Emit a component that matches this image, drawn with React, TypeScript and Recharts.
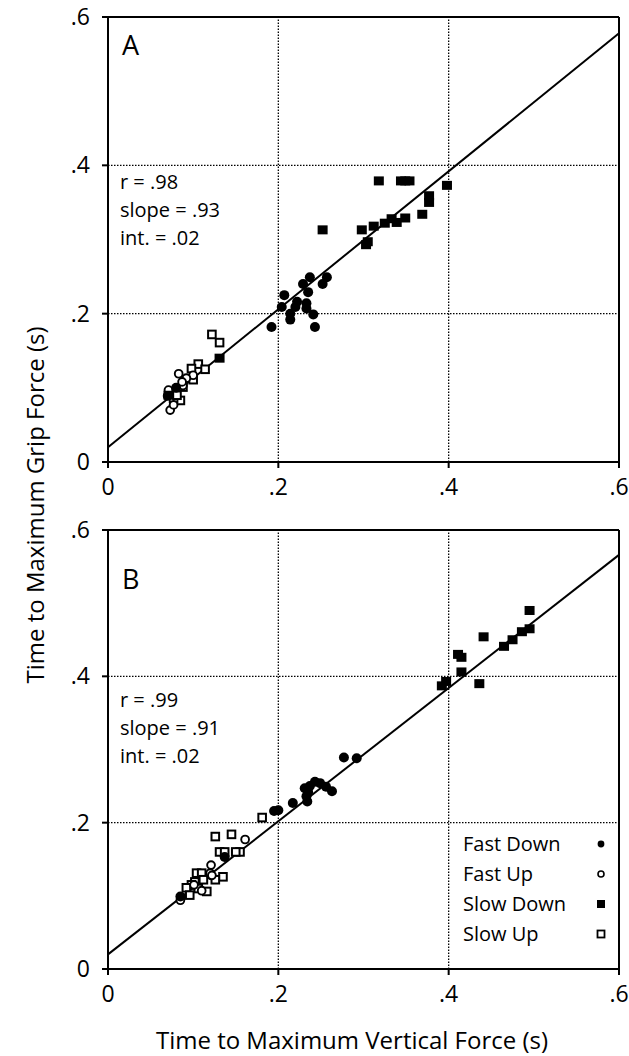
import { ScatterChart, Scatter, XAxis, YAxis, ReferenceLine } from 'recharts';

type Pt = { x: number; y: number };

// axis ticks shared by both panels
const TICKS = [0, 0.2, 0.4, 0.6];
const GRID = [0.2, 0.4];

// Panel A
const aFastDown: Pt[] = [
  { x: 0.257, y: 0.249 }, { x: 0.252, y: 0.24 }, { x: 0.237, y: 0.249 }, { x: 0.229, y: 0.24 },
  { x: 0.235, y: 0.229 }, { x: 0.222, y: 0.216 }, { x: 0.207, y: 0.225 }, { x: 0.233, y: 0.214 },
  { x: 0.233, y: 0.207 }, { x: 0.22, y: 0.209 }, { x: 0.214, y: 0.2 }, { x: 0.214, y: 0.192 },
  { x: 0.241, y: 0.199 }, { x: 0.243, y: 0.182 }, { x: 0.192, y: 0.182 }, { x: 0.204, y: 0.209 },
  { x: 0.08, y: 0.1 },
];
const aFastUp: Pt[] = [
  { x: 0.083, y: 0.119 }, { x: 0.1, y: 0.117 }, { x: 0.073, y: 0.07 }, { x: 0.077, y: 0.077 },
  { x: 0.088, y: 0.103 }, { x: 0.071, y: 0.097 }, { x: 0.07, y: 0.089 }, { x: 0.092, y: 0.113 },
  { x: 0.087, y: 0.108 },
];
const aSlowDown: Pt[] = [
  { x: 0.318, y: 0.379 }, { x: 0.344, y: 0.379 }, { x: 0.349, y: 0.379 }, { x: 0.354, y: 0.379 },
  { x: 0.398, y: 0.373 }, { x: 0.377, y: 0.359 }, { x: 0.377, y: 0.35 }, { x: 0.369, y: 0.334 },
  { x: 0.349, y: 0.329 }, { x: 0.339, y: 0.323 }, { x: 0.333, y: 0.328 }, { x: 0.325, y: 0.322 },
  { x: 0.312, y: 0.318 }, { x: 0.298, y: 0.313 }, { x: 0.305, y: 0.297 }, { x: 0.303, y: 0.293 },
  { x: 0.252, y: 0.313 }, { x: 0.131, y: 0.14 }, { x: 0.071, y: 0.09 },
];
const aSlowUp: Pt[] = [
  { x: 0.122, y: 0.172 }, { x: 0.131, y: 0.161 }, { x: 0.106, y: 0.132 }, { x: 0.098, y: 0.126 },
  { x: 0.114, y: 0.125 }, { x: 0.1, y: 0.111 }, { x: 0.088, y: 0.101 }, { x: 0.085, y: 0.083 },
  { x: 0.077, y: 0.086 }, { x: 0.081, y: 0.09 },
];

// Panel B
const bFastDown: Pt[] = [
  { x: 0.2, y: 0.217 }, { x: 0.195, y: 0.216 }, { x: 0.217, y: 0.227 }, { x: 0.234, y: 0.229 },
  { x: 0.235, y: 0.242 }, { x: 0.237, y: 0.25 }, { x: 0.243, y: 0.256 }, { x: 0.249, y: 0.254 },
  { x: 0.256, y: 0.249 }, { x: 0.263, y: 0.243 }, { x: 0.231, y: 0.247 }, { x: 0.233, y: 0.236 },
  { x: 0.277, y: 0.289 }, { x: 0.292, y: 0.288 }, { x: 0.085, y: 0.099 }, { x: 0.137, y: 0.153 },
];
const bFastUp: Pt[] = [
  { x: 0.085, y: 0.094 }, { x: 0.161, y: 0.177 }, { x: 0.121, y: 0.142 }, { x: 0.121, y: 0.128 },
  { x: 0.101, y: 0.115 }, { x: 0.11, y: 0.107 }, { x: 0.12, y: 0.131 }, { x: 0.122, y: 0.128 },
];
const bSlowDown: Pt[] = [
  { x: 0.392, y: 0.387 }, { x: 0.397, y: 0.393 }, { x: 0.415, y: 0.406 }, { x: 0.411, y: 0.43 },
  { x: 0.415, y: 0.426 }, { x: 0.436, y: 0.39 }, { x: 0.441, y: 0.454 }, { x: 0.465, y: 0.441 },
  { x: 0.475, y: 0.45 }, { x: 0.486, y: 0.461 }, { x: 0.495, y: 0.465 }, { x: 0.495, y: 0.49 },
];
const bSlowUp: Pt[] = [
  { x: 0.181, y: 0.207 }, { x: 0.126, y: 0.181 }, { x: 0.145, y: 0.184 }, { x: 0.131, y: 0.16 },
  { x: 0.137, y: 0.16 }, { x: 0.155, y: 0.16 }, { x: 0.15, y: 0.16 }, { x: 0.104, y: 0.131 },
  { x: 0.11, y: 0.131 }, { x: 0.135, y: 0.126 }, { x: 0.126, y: 0.122 }, { x: 0.112, y: 0.122 },
  { x: 0.102, y: 0.119 }, { x: 0.098, y: 0.115 }, { x: 0.092, y: 0.111 }, { x: 0.096, y: 0.101 },
  { x: 0.106, y: 0.11 }, { x: 0.116, y: 0.106 },
];

// fit lines: [intercept, slope]
const aFit = [0.02, 0.93];
const bFit = [0.02, 0.91];
const aStats = ['r = .98', 'slope = .93', 'int. = .02'];
const bStats = ['r = .99', 'slope = .91', 'int. = .02'];
const legendItems = ['Fast Down', 'Fast Up', 'Slow Down', 'Slow Up'];

const FONT = '"Open Sans", sans-serif';

const fmt = (v: number) => (v === 0 ? '0' : String(v).replace('0.', '.'));

const FilledCircle = (p: any) => <circle cx={p.cx} cy={p.cy} r={5} fill="#000" />;
const OpenCircle = (p: any) => (
  <circle cx={p.cx} cy={p.cy} r={3.9} fill="#fff" stroke="#000" strokeWidth={1.9} />
);
const FilledSquare = (p: any) => <rect x={p.cx - 5} y={p.cy - 4.5} width={10} height={9} fill="#000" />;
const OpenSquare = (p: any) => (
  <rect x={p.cx - 3.8} y={p.cy - 3.8} width={7.6} height={7.6} fill="#fff" stroke="#000" strokeWidth={2} />
);

const Panel = ({ fastDown, fastUp, slowDown, slowUp, fit, height, margin }: any) => {
  const [b0, b1] = fit;
  return (
    <ScatterChart width={629} height={height} margin={margin}>
      <XAxis
        type="number"
        dataKey="x"
        domain={[0, 0.6]}
        ticks={TICKS}
        tickFormatter={fmt}
        allowDataOverflow
        height={40}
        stroke="#000"
        strokeWidth={2}
        tickSize={6}
        tickMargin={11}
        tick={{ fill: '#000', fontSize: 23, fontFamily: FONT }}
      />
      <YAxis
        type="number"
        dataKey="y"
        domain={[0, 0.6]}
        ticks={TICKS}
        tickFormatter={fmt}
        allowDataOverflow
        width={40}
        stroke="#000"
        strokeWidth={2}
        tickSize={6}
        tickMargin={12}
        tick={{ fill: '#000', fontSize: 23, fontFamily: FONT }}
      />
      {GRID.map(g => (
        <ReferenceLine key={'x' + g} x={g} stroke="#000" strokeWidth={1.3} strokeDasharray="1.5 1.5" />
      ))}
      {GRID.map(g => (
        <ReferenceLine key={'y' + g} y={g} stroke="#000" strokeWidth={1.3} strokeDasharray="1.5 1.5" />
      ))}
      <ReferenceLine y={0.6} stroke="#000" strokeWidth={2} />
      <ReferenceLine x={0.6} stroke="#000" strokeWidth={2} />
      <ReferenceLine
        segment={[{ x: 0, y: b0 }, { x: 0.6, y: b0 + b1 * 0.6 }]}
        stroke="#000"
        strokeWidth={2}
      />
      <Scatter data={slowUp} shape={OpenSquare} isAnimationActive={false} />
      <Scatter data={fastUp} shape={OpenCircle} isAnimationActive={false} />
      <Scatter data={slowDown} shape={FilledSquare} isAnimationActive={false} />
      <Scatter data={fastDown} shape={FilledCircle} isAnimationActive={false} />
    </ScatterChart>
  );
};

const Stats = ({ lines, top }: { lines: string[]; top: number }) => (
  <div style={{ position: 'absolute', left: 120, top, fontFamily: FONT, fontSize: 20, lineHeight: '28px' }}>
    {lines.map(l => (
      <div key={l}>{l}</div>
    ))}
  </div>
);

const legendShapes = [
  <circle cx={6} cy={6} r={3.4} fill="#000" />,
  <circle cx={6} cy={6} r={3} fill="#fff" stroke="#000" strokeWidth={1.6} />,
  <rect x={2} y={2} width={8} height={8} fill="#000" />,
  <rect x={2.5} y={2.5} width={7} height={7} fill="#fff" stroke="#000" strokeWidth={1.8} />,
];

const App = () => {
  return (
    <div style={{ position: 'absolute', left: 0, top: 0, width: 629, height: 1056, background: '#fff' }}>
      <div style={{ position: 'absolute', left: 0, top: 0 }}>
        <Panel
          fastDown={aFastDown}
          fastUp={aFastUp}
          slowDown={aSlowDown}
          slowUp={aSlowUp}
          fit={aFit}
          height={510}
          margin={{ top: 17, right: 10, left: 68, bottom: 8 }}
        />
      </div>
      <div style={{ position: 'absolute', left: 0, top: 510 }}>
        <Panel
          fastDown={bFastDown}
          fastUp={bFastUp}
          slowDown={bSlowDown}
          slowUp={bSlowUp}
          fit={bFit}
          height={546}
          margin={{ top: 20, right: 10, left: 68, bottom: 47 }}
        />
      </div>

      <div style={{ position: 'absolute', left: 122, top: 26, fontFamily: FONT, fontSize: 27 }}>A</div>
      <div style={{ position: 'absolute', left: 122, top: 560, fontFamily: FONT, fontSize: 27 }}>B</div>

      <Stats lines={aStats} top={168} />
      <Stats lines={bStats} top={686} />

      <div style={{ position: 'absolute', left: 463, top: 829, fontFamily: FONT, fontSize: 20, lineHeight: '30px' }}>
        {legendItems.map((l, i) => (
          <div key={l} style={{ position: 'relative', width: 150 }}>
            {l}
            <svg width={12} height={12} style={{ position: 'absolute', left: 132, top: 9 }}>
              {legendShapes[i]}
            </svg>
          </div>
        ))}
      </div>

      <div
        style={{
          position: 'absolute',
          left: 35 - 250,
          top: 505 - 16,
          width: 500,
          height: 32,
          lineHeight: '32px',
          textAlign: 'center',
          transform: 'rotate(-90deg)',
          fontFamily: FONT,
          fontSize: 24,
        }}
      >
        Time to Maximum Grip Force (s)
      </div>
      <div
        style={{
          position: 'absolute',
          left: 102,
          top: 1024,
          width: 500,
          lineHeight: '32px',
          textAlign: 'center',
          fontFamily: FONT,
          fontSize: 24,
        }}
      >
        Time to Maximum Vertical Force (s)
      </div>
    </div>
  );
};

export default App;
